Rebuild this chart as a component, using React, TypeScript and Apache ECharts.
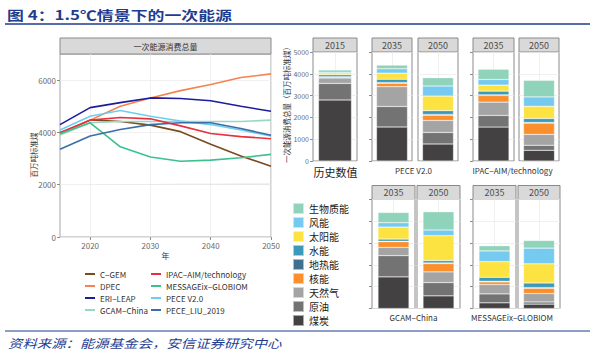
import React, { useEffect, useRef } from "react";
import * as echarts from "echarts";

// ---------- Left chart data (一次能源消费总量, 百万吨标准煤) ----------
const years = [2015, 2020, 2025, 2030, 2035, 2040, 2045, 2050];
const xTickLabels = [2020, 2030, 2040, 2050];
const yTickLabels = [0, 2000, 4000, 6000];
const modelNames = [
  "C−GEM",
  "DPEC",
  "ERI−LEAP",
  "GCAM−China",
  "IPAC−AIM/technology",
  "MESSAGEix−GLOBIOM",
  "PECE V2.0",
  "PECE_LIU_2019",
];
const cgem = [3950, 4480, 4420, 4280, 4030, 3550, 3100, 2710];
const dpec = [3960, 4470, 5000, 5320, 5600, 5830, 6100, 6240];
const eriLeap = [4300, 4950, 5140, 5320, 5300, 5210, 5000, 4810];
const gcamChina = [3900, 4370, 4420, 4420, 4420, 4420, 4420, 4470];
const ipacAim = [4000, 4470, 4570, 4520, 4250, 3960, 3840, 3760];
const messageix = [3950, 4370, 3450, 3060, 2900, 2940, 3030, 3160];
const peceV2 = [4090, 4620, 4840, 4620, 4440, 4300, 4090, 3860];
const peceLiu = [3360, 3860, 4110, 4300, 4370, 4370, 4150, 3890];
const modelValues = [cgem, dpec, eriLeap, gcamChina, ipacAim, messageix, peceV2, peceLiu];
const modelColors = ["#7b4a1e", "#f5824f", "#1c1c9e", "#98d8c0", "#e8313f", "#3cc08e", "#6fcdf2", "#3b6ea6"];

// ---------- Right chart data (stacked energy mix) ----------
const energyTypes = ["煤炭", "原油", "天然气", "核能", "地热能", "水能", "太阳能", "风能", "生物质能"];
const energyColors = ["#444142", "#737373", "#a4a4a4", "#fb8f2b", "#40708f", "#3b99ba", "#fde342", "#76caf0", "#90d3bb"];
const hist2015 = [2800, 760, 250, 40, 20, 90, 45, 60, 110];
const pece2035 = [1560, 940, 910, 160, 30, 150, 280, 200, 170];
const pece2050 = [780, 530, 550, 240, 40, 170, 670, 460, 380];
const ipac2035 = [1555, 535, 610, 305, 30, 170, 275, 260, 470];
const ipac2050 = [490, 230, 500, 520, 30, 180, 560, 430, 760];
const gcam2035 = [1450, 975, 380, 260, 20, 100, 550, 200, 470];
const gcam2050 = [580, 610, 490, 380, 30, 110, 1140, 260, 840];
const msg2035 = [260, 410, 430, 120, 30, 180, 720, 490, 240];
const msg2050 = [200, 100, 390, 240, 30, 210, 880, 720, 350];
const stripYears = ["2015", "2035", "2050", "2035", "2050", "2035", "2050", "2035", "2050"];
const groupLabels = ["历史数值", "PECE V2.0", "IPAC−AIM/technology", "GCAM−China", "MESSAGEix−GLOBIOM"];

const FONT = "'Noto Sans CJK SC', 'Noto Sans', sans-serif";
const BLUE = "#1f3d8f";

export default function App() {
  const ref = useRef<HTMLDivElement>(null);

  useEffect(() => {
    const chart = echarts.init(ref.current!, null, { renderer: "svg" });

    const panelData = [hist2015, pece2035, pece2050, ipac2035, ipac2050, gcam2035, gcam2050, msg2035, msg2050];
    const layout = [
      { left: 313, top: 52, width: 44, bw: 33, axis: "labels" },
      { left: 372, top: 52, width: 40, bw: 31, axis: "ticks" },
      { left: 418, top: 52, width: 40, bw: 31, axis: "none" },
      { left: 473, top: 52, width: 41, bw: 31, axis: "ticks" },
      { left: 519, top: 52, width: 40, bw: 31, axis: "none" },
      { left: 372, top: 199.5, width: 43, bw: 31, axis: "ticks" },
      { left: 417, top: 199.5, width: 43, bw: 31, axis: "none" },
      { left: 473, top: 199.5, width: 43, bw: 31, axis: "ticks" },
      { left: 518, top: 199.5, width: 42, bw: 31, axis: "none" },
    ];
    const PH = 109;
    const groupLabelPos = [
      { x: 335.5, y: 172, size: 11, color: "#222" },
      { x: 413.5, y: 170, size: 8, color: "#333" },
      { x: 512.5, y: 170, size: 8, color: "#333" },
      { x: 413.5, y: 317, size: 8, color: "#333" },
      { x: 512, y: 317, size: 8, color: "#333" },
    ];
    const plain = (v: number) => String(v);

    const grids: any[] = [
      { left: 60, top: 54, width: 211, height: 183, show: true, borderColor: "#a6a6a6", borderWidth: 1, backgroundColor: "#fff" },
    ];
    const xAxes: any[] = [
      {
        type: "value",
        gridIndex: 0,
        min: 2015,
        max: 2050,
        interval: 5,
        axisLine: { show: false },
        axisTick: { show: true, customValues: xTickLabels, length: 3, lineStyle: { color: "#8c8c8c" } },
        axisLabel: { customValues: xTickLabels, fontSize: 8, color: "#6b6b6b", margin: 4, fontFamily: FONT, formatter: plain },
        splitLine: { show: true, lineStyle: { color: "#ececec", width: 0.8 } },
      },
    ];
    const yAxes: any[] = [
      {
        type: "value",
        gridIndex: 0,
        min: 0,
        max: 7000,
        interval: 1000,
        axisLine: { show: false },
        axisTick: { show: true, customValues: yTickLabels, length: 3, lineStyle: { color: "#8c8c8c" } },
        axisLabel: { customValues: yTickLabels, fontSize: 8, color: "#6b6b6b", margin: 4, fontFamily: FONT, formatter: plain },
        splitLine: { show: true, lineStyle: { color: "#ececec", width: 0.8 } },
      },
    ];

    const series: any[] = [];
    // ribbon (min-max envelope of the models)
    const mins = years.map((_, i) => Math.min(...modelValues.map((m) => m[i])));
    const maxs = years.map((_, i) => Math.max(...modelValues.map((m) => m[i])));
    series.push({
      type: "line",
      name: "__lower",
      xAxisIndex: 0,
      yAxisIndex: 0,
      stack: "band",
      data: years.map((y, i) => [y, mins[i]]),
      showSymbol: false,
      lineStyle: { opacity: 0 },
      silent: true,
      z: 1,
    });
    series.push({
      type: "line",
      name: "__band",
      xAxisIndex: 0,
      yAxisIndex: 0,
      stack: "band",
      data: years.map((y, i) => [y, maxs[i] - mins[i]]),
      showSymbol: false,
      lineStyle: { opacity: 0 },
      areaStyle: { color: "#e3e3e5", opacity: 1 },
      silent: true,
      z: 1,
    });
    modelNames.forEach((name, k) => {
      series.push({
        type: "line",
        name,
        xAxisIndex: 0,
        yAxisIndex: 0,
        data: years.map((y, i) => [y, modelValues[k][i]]),
        showSymbol: false,
        color: modelColors[k],
        lineStyle: { width: 1.6, color: modelColors[k] },
        z: 3,
      });
    });

    const graphics: any[] = [];
    const txt = (text: string, x: number, y: number, size: number, fill: string, extra: any = {}, elExtra: any = {}) => ({
      type: "text",
      x,
      y,
      silent: true,
      ...elExtra,
      style: {
        text,
        fill,
        fontSize: size,
        fontFamily: FONT,
        align: "center",
        verticalAlign: "middle",
        textAlign: "center",
        textVerticalAlign: "middle",
        ...extra,
      },
    });

    layout.forEach((p, i) => {
      const gi = i + 1;
      grids.push({ left: p.left, top: p.top, width: p.width, height: PH, show: true, borderColor: "#8a8a8a", borderWidth: 1, backgroundColor: "#fff" });
      xAxes.push({
        type: "category",
        gridIndex: gi,
        data: ["a", "b", "c"],
        boundaryGap: false,
        axisLine: { show: false },
        axisTick: { show: false },
        axisLabel: { show: false },
        splitLine: { show: true, lineStyle: { color: ["rgba(0,0,0,0)", "#ececec"], width: 0.8 } },
      });
      yAxes.push({
        type: "value",
        gridIndex: gi,
        min: 0,
        max: 5000,
        interval: 1000,
        axisLine: { show: false },
        axisTick: { show: p.axis !== "none", length: 3, lineStyle: { color: "#8c8c8c" } },
        axisLabel: { show: p.axis === "labels", fontSize: 7, color: "#6b6b6b", margin: 4, fontFamily: FONT, formatter: plain },
        splitLine: { show: true, lineStyle: { color: "#ececec", width: 0.8 } },
      });
      energyTypes.forEach((et, t) => {
        series.push({
          type: "bar",
          name: et,
          xAxisIndex: gi,
          yAxisIndex: gi,
          stack: "s" + i,
          barWidth: p.bw,
          data: ["-", panelData[i][t], "-"],
          itemStyle: { color: energyColors[t], borderColor: "rgba(255,255,255,0.55)", borderWidth: 0.5 },
          z: 3,
        });
      });
      graphics.push({
        type: "rect",
        silent: true,
        shape: { x: p.left, y: p.top - 14, width: p.width, height: 14 },
        style: { fill: "#d9d9d9", stroke: "#8a8a8a", lineWidth: 1 },
      });
      graphics.push(txt(stripYears[i], p.left + p.width / 2, p.top - 7, 9, "#4d4d4d"));
    });

    groupLabels.forEach((g, i) => {
      const gp = groupLabelPos[i];
      graphics.push(txt(g, gp.x, gp.y, gp.size, gp.color));
    });

    // left chart strip and axis titles
    graphics.push({
      type: "rect",
      silent: true,
      shape: { x: 60, y: 38, width: 211, height: 16 },
      style: { fill: "#d9d9d9", stroke: "#8a8a8a", lineWidth: 1 },
    });
    graphics.push(txt("一次能源消费总量", 165.5, 46, 8, "#333"));
    graphics.push(txt("百万吨标准煤", 33, 155, 7.5, "#333", {}, { rotation: Math.PI / 2 }));
    graphics.push(txt("年", 165.5, 255, 8, "#333"));
    graphics.push(txt("一次能源消费总量（百万吨标准煤）", 286.5, 103, 7.5, "#333", {}, { rotation: Math.PI / 2 }));

    // title / footer
    graphics.push(
      txt("图 4：1.5℃情景下的一次能源", 7, 14, 13, BLUE, { fontWeight: "bold", align: "left", textAlign: "left" }, { scaleX: 1.3 })
    );
    graphics.push({ type: "line", silent: true, shape: { x1: 5, y1: 24, x2: 590, y2: 24 }, style: { stroke: BLUE, lineWidth: 1.3 } });
    graphics.push({ type: "line", silent: true, shape: { x1: 5, y1: 331, x2: 590, y2: 331 }, style: { stroke: BLUE, lineWidth: 1 } });
    graphics.push(
      txt("资料来源：能源基金会，安信证券研究中心", 8, 343, 12, BLUE, { fontStyle: "italic", align: "left", textAlign: "left" }, { scaleX: 1.2 })
    );

    const lineLegend = (names: string[], left: number) => ({
      show: true,
      orient: "vertical",
      left,
      top: 269,
      padding: 0,
      icon: "rect",
      itemWidth: 10,
      itemHeight: 2,
      itemGap: 2,
      selectedMode: false,
      data: names,
      textStyle: { fontSize: 8, color: "#333", lineHeight: 10, fontFamily: FONT },
    });

    const option: any = {
      animation: false,
      backgroundColor: "#fff",
      textStyle: { fontFamily: FONT },
      grid: grids,
      xAxis: xAxes,
      yAxis: yAxes,
      series,
      legend: [
        lineLegend(modelNames.slice(0, 4), 85),
        lineLegend(modelNames.slice(4), 151),
        {
          show: true,
          orient: "vertical",
          left: 292,
          top: 202,
          padding: 0,
          icon: "rect",
          itemWidth: 11,
          itemHeight: 11,
          itemGap: 1,
          selectedMode: false,
          data: [...energyTypes].reverse(),
          textStyle: { fontSize: 10, color: "#1a1a1a", lineHeight: 11, fontFamily: FONT },
        },
      ],
      graphic: { elements: graphics },
    };

    chart.setOption(option);
    return () => chart.dispose();
  }, []);

  return <div ref={ref} style={{ position: "absolute", left: 0, top: 0, width: 592, height: 358 }} />;
}
